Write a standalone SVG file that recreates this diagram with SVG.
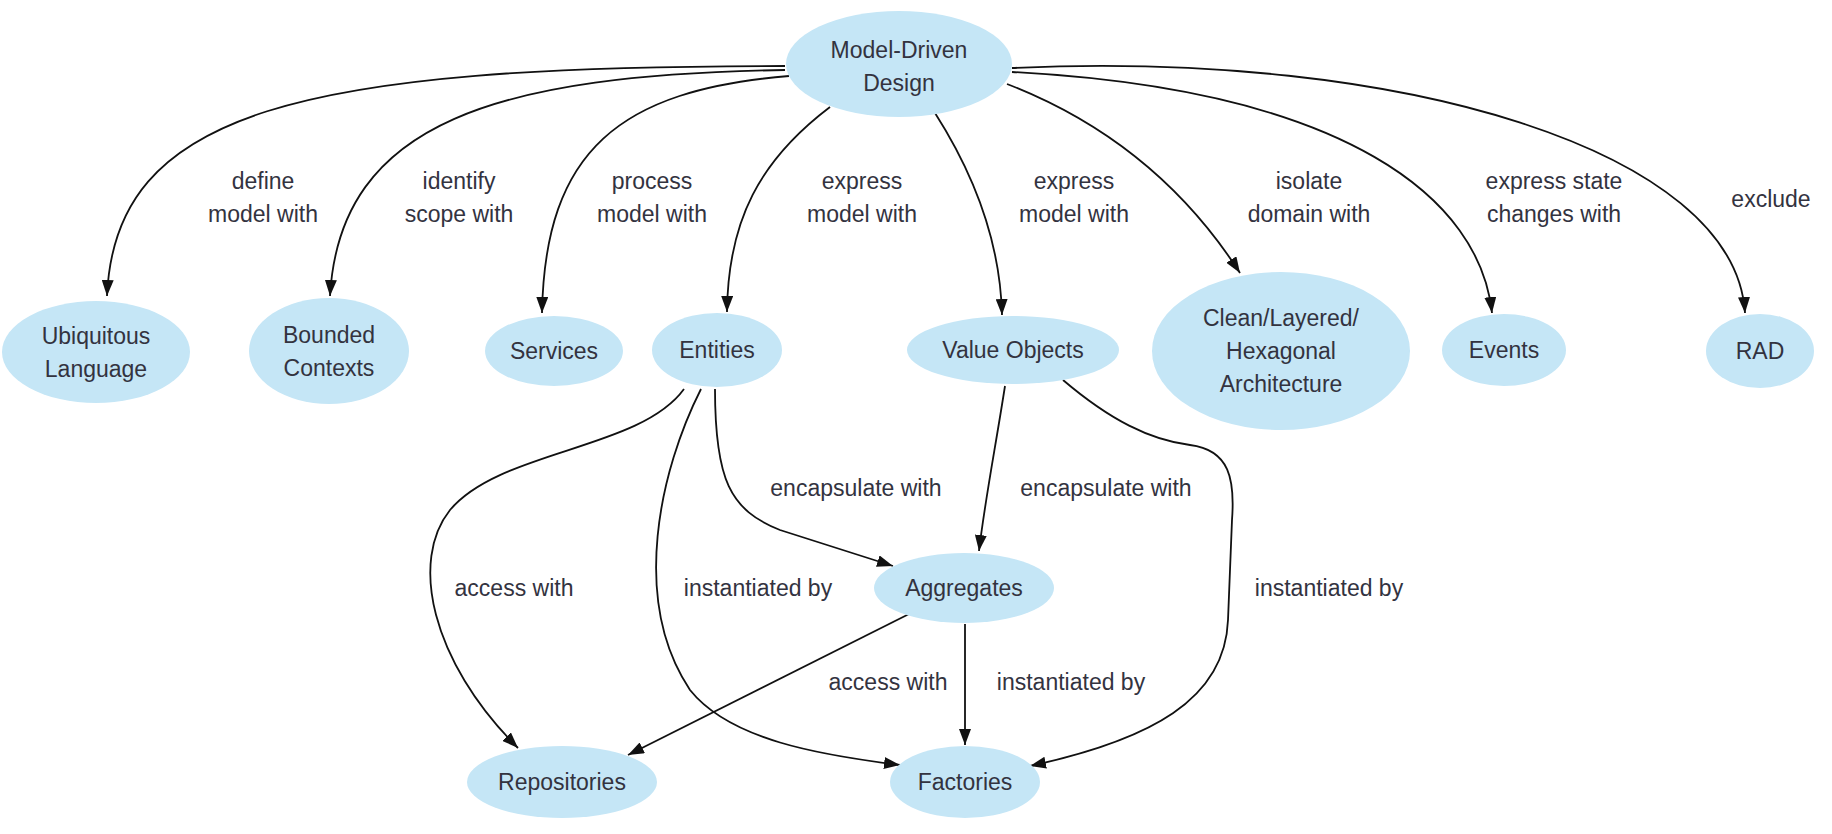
<svg xmlns="http://www.w3.org/2000/svg" width="1832" height="834" viewBox="0 0 1832 834">
<style>
.n ellipse{fill:#c5e6f6;stroke:none}
.n text,.lbl text{font-family:"Liberation Sans",Arial,sans-serif;font-size:23px;fill:#33333f;text-anchor:middle;dominant-baseline:central}
.e path{fill:none;stroke:#111;stroke-width:1.8;marker-end:url(#arr)}
</style>
<defs>
<marker id="arr" markerUnits="userSpaceOnUse" markerWidth="18" markerHeight="12" refX="16" refY="6" orient="auto">
<path d="M0,0 L16,6 L0,12 Z" fill="#111"/>
</marker>
</defs>
<rect width="1832" height="834" fill="#fff"/>
<g id="connectors" class="e">
<path d="M785,66 C300,66 115,110 107,296"/>
<path d="M785,70 C500,75 340,120 330,296"/>
<path d="M789,76 C620,90 545,150 542,313"/>
<path d="M830,107 C760,160 728,220 727,312"/>
<path d="M935,113 C965,160 1000,230 1002,315"/>
<path d="M1007,84 C1100,120 1180,180 1240,273"/>
<path d="M1012,72 C1350,90 1480,200 1492,313"/>
<path d="M1012,68 C1400,50 1735,150 1745,313"/>
<path d="M684,389 C640,450 500,450 450,510 C410,560 430,660 518,748"/>
<path d="M701,389 C660,470 630,600 690,690 C730,740 820,755 900,765"/>
<path d="M715,389 C715,480 730,510 780,530 L893,566"/>
<path d="M1005,386 C995,450 985,500 979,551"/>
<path d="M1063,380 C1110,420 1150,440 1190,445 C1230,450 1235,480 1232,520 L1228,620 C1225,700 1150,740 1030,766"/>
<path d="M911,613 L628,755"/>
<path d="M965,624 L965,745"/>
</g>
<g id="edge-labels" class="lbl">
<text x="263" y="181">define</text><text x="263" y="214">model with</text>
<text x="459" y="181">identify</text><text x="459" y="214">scope with</text>
<text x="652" y="181">process</text><text x="652" y="214">model with</text>
<text x="862" y="181">express</text><text x="862" y="214">model with</text>
<text x="1074" y="181">express</text><text x="1074" y="214">model with</text>
<text x="1309" y="181">isolate</text><text x="1309" y="214">domain with</text>
<text x="1554" y="181">express state</text><text x="1554" y="214">changes with</text>
<text x="1771" y="199">exclude</text>
<text x="856" y="488">encapsulate with</text>
<text x="1106" y="488">encapsulate with</text>
<text x="514" y="588">access with</text>
<text x="758" y="588">instantiated by</text>
<text x="1329" y="588">instantiated by</text>
<text x="888" y="682">access with</text>
<text x="1071" y="682">instantiated by</text>
</g>
<g id="model-driven-design" class="n"><ellipse cx="899" cy="64" rx="113" ry="53"/><text x="899" y="50">Model-Driven</text><text x="899" y="83">Design</text></g>
<g id="ubiquitous-language" class="n"><ellipse cx="96" cy="352" rx="94" ry="51"/><text x="96" y="336">Ubiquitous</text><text x="96" y="369">Language</text></g>
<g id="bounded-contexts" class="n"><ellipse cx="329" cy="351" rx="80" ry="53"/><text x="329" y="335">Bounded</text><text x="329" y="368">Contexts</text></g>
<g id="services" class="n"><ellipse cx="554" cy="351" rx="69" ry="35"/><text x="554" y="351">Services</text></g>
<g id="entities" class="n"><ellipse cx="717" cy="350" rx="65" ry="37"/><text x="717" y="350">Entities</text></g>
<g id="value-objects" class="n"><ellipse cx="1013" cy="350" rx="106" ry="34"/><text x="1013" y="350">Value Objects</text></g>
<g id="architecture" class="n"><ellipse cx="1281" cy="351" rx="129" ry="79"/><text x="1281" y="318">Clean/Layered/</text><text x="1281" y="351">Hexagonal</text><text x="1281" y="384">Architecture</text></g>
<g id="events" class="n"><ellipse cx="1504" cy="350" rx="62" ry="36"/><text x="1504" y="350">Events</text></g>
<g id="rad" class="n"><ellipse cx="1760" cy="351" rx="54" ry="37"/><text x="1760" y="351">RAD</text></g>
<g id="aggregates" class="n"><ellipse cx="964" cy="588" rx="90" ry="35"/><text x="964" y="588">Aggregates</text></g>
<g id="repositories" class="n"><ellipse cx="562" cy="782" rx="95" ry="36"/><text x="562" y="782">Repositories</text></g>
<g id="factories" class="n"><ellipse cx="965" cy="782" rx="75" ry="36"/><text x="965" y="782">Factories</text></g>
</svg>
